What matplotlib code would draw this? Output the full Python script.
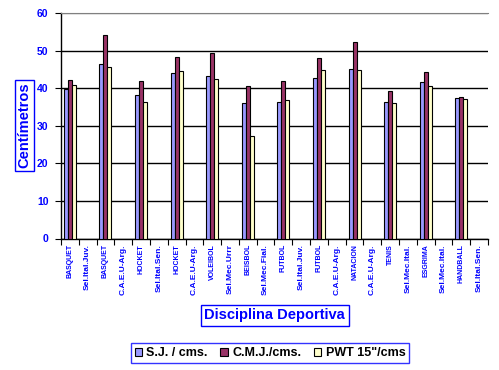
import numpy as np
import matplotlib
matplotlib.use("Agg")
import matplotlib.pyplot as plt
from matplotlib.patches import Patch

plt.rcParams['font.family'] = ['Liberation Sans', 'DejaVu Sans']

# category labels (sport / team alternating)
categories = ["BASQUET", "Sel.Ital.Juv.", "BASQUET", "C.A.E.U-Arg.",
              "HOCKET", "Sel.Ital.Sen.", "HOCKET", "C.A.E.U-Arg.",
              "VOLEIBOL", "Sel.Mec.Urrr", "BEISBOL", "Sel.Mec.Fial.",
              "FUTBOL", "Sel.Ital.Juv.", "FUTBOL", "C.A.E.U-Arg.",
              "NATACION", "C.A.E.U-Arg.", "TENIS", "Sel.Mec.Ital.",
              "ESGRIMA", "Sel.Mec.Ital.", "HANDBALL", "Sel.Ital.Sen."]

# one value per sport group (bars sit on the sport categories)
sj  = [39.9, 46.5, 38.2, 44.1, 43.3, 36.1, 36.4, 42.8, 45.2, 36.4, 41.7, 37.4]
cmj = [42.2, 54.2, 42.0, 48.4, 49.4, 40.6, 42.0, 48.1, 52.4, 39.3, 44.4, 37.7]
pwt = [40.9, 45.7, 36.4, 44.6, 42.5, 27.3, 36.9, 44.9, 44.9, 36.1, 40.6, 37.2]
series_names = ["S.J. / cms.", "C.M.J./cms.", "PWT 15\"/cms"]
yticks = [0, 10, 20, 30, 40, 50, 60]

colors = ["#9999FF", "#993366", "#FFFFCC"]
blue = "#0000FF"

fig = plt.figure(figsize=(4.99, 3.70), dpi=100)
ax = fig.add_axes([61/499, 1-238.5/370, (488-61)/499, (238.5-13)/370])

n = len(categories)
xs = np.arange(n)
group_x = xs[0::2]
w = 0.225
for k, (vals, c) in enumerate(zip([sj, cmj, pwt], colors)):
    ax.bar(group_x + (k-1)*w, vals, width=w, color=c, edgecolor="black",
           linewidth=0.8, zorder=3)

ax.set_xlim(-0.5, n-0.5)
ax.set_ylim(0, 60)
ax.set_yticks(yticks)
ax.set_yticklabels([str(v) for v in yticks], color=blue, fontsize=7.5,
                   fontweight="bold")
ax.tick_params(axis="y", length=4, width=0.8, color="black", pad=5)

# boundaries as ticks, labels at centers
ax.set_xticks(np.arange(-0.5, n, 1.0))
ax.set_xticklabels([])
ax.tick_params(axis="x", which="major", length=4, width=0.8)
ax.set_xticks(xs, minor=True)
ax.set_xticklabels(categories, minor=True, rotation=90, color=blue)
ax.tick_params(axis="x", which="minor", length=0, pad=4)
for i, lab in enumerate(ax.get_xticklabels(minor=True)):
    lab.set_fontweight("bold")
    lab.set_verticalalignment("top")
    lab.set_fontsize(5.0 if i % 2 == 0 else 6.0)

ax.yaxis.grid(True, color="black", linewidth=1.0, zorder=0)
ax.set_axisbelow(True)
gl = ax.get_ygridlines()
gl[-1].set_color("#808080")
for s in ["right"]:
    ax.spines[s].set_visible(False)
ax.spines["top"].set_color("#808080")
ax.spines["left"].set_linewidth(1.0)
ax.spines["bottom"].set_linewidth(1.0)

fig.text(24.5/499, 1-125.5/370, "Centímetros", rotation=90, ha="center",
         va="center", color=blue, fontsize=10.5, fontweight="bold",
         bbox=dict(boxstyle="square,pad=0.2", fc="white", ec=blue, lw=1))
fig.text(274.7/499, 1-315.2/370, "Disciplina Deportiva", ha="center",
         va="center", color=blue, fontsize=10.5, fontweight="bold",
         bbox=dict(boxstyle="square,pad=0.25", fc="white", ec=blue, lw=1))

handles = [Patch(facecolor=c, edgecolor="black", linewidth=0.8) for c in colors]
leg = fig.legend(handles, series_names, loc="center",
                 bbox_to_anchor=(270/499, 1-353/370), ncol=3, frameon=True,
                 fancybox=False, edgecolor=blue, fontsize=9,
                 handlelength=0.6, handleheight=0.6, handletextpad=0.35,
                 columnspacing=1.0, borderpad=0.3, borderaxespad=0)
leg.get_frame().set_linewidth(1.0)
for t in leg.get_texts():
    t.set_fontweight("bold")

fig.savefig("out.png", dpi=100)
